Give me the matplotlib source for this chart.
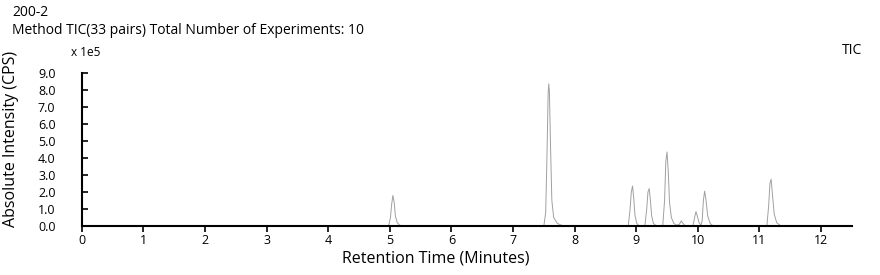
import matplotlib.pyplot as plt

plt.rcParams['font.family'] = ['Open Sans', 'DejaVu Sans']

# TIC trace (time in minutes, intensity in 1e5 CPS)
time = [0.0, 4.98, 5.01, 5.03, 5.05, 5.07, 5.09, 5.12, 5.16, 5.22,
        7.50, 7.53, 7.55, 7.57, 7.58, 7.59, 7.61, 7.63, 7.66, 7.72, 7.82,
        8.87, 8.90, 8.92, 8.94, 8.96, 8.98, 9.01, 9.05,
        9.14, 9.17, 9.19, 9.21, 9.23, 9.25, 9.28, 9.33,
        9.43, 9.46, 9.48, 9.50, 9.52, 9.54, 9.57, 9.61, 9.66,
        9.70, 9.73, 9.76, 9.80,
        9.92, 9.95, 9.97, 9.99, 10.02, 10.05,
        10.07, 10.09, 10.11, 10.13, 10.16, 10.20, 10.25,
        11.12, 11.15, 11.17, 11.19, 11.21, 11.24, 11.28, 11.35, 12.5]
inten = [0.0, 0.0, 0.5, 1.3, 1.8, 1.4, 0.6, 0.2, 0.05, 0.0,
         0.0, 0.8, 4.0, 7.8, 8.35, 7.9, 4.5, 1.5, 0.5, 0.15, 0.0,
         0.0, 1.0, 2.0, 2.35, 1.6, 0.6, 0.15, 0.0,
         0.0, 1.0, 2.0, 2.2, 1.5, 0.6, 0.15, 0.0,
         0.0, 1.5, 3.8, 4.35, 3.2, 1.4, 0.5, 0.15, 0.05,
         0.1, 0.3, 0.15, 0.0,
         0.0, 0.55, 0.85, 0.6, 0.2, 0.05,
         0.3, 1.5, 2.05, 1.6, 0.6, 0.15, 0.0,
         0.0, 1.2, 2.5, 2.75, 1.9, 0.7, 0.2, 0.0, 0.0]

x_ticks = list(range(0, 13))
y_ticks = [0, 1, 2, 3, 4, 5, 6, 7, 8, 9]

fig = plt.figure(figsize=(8.8, 2.75), dpi=100)
ax = fig.add_axes([0.093, 0.178, 0.875, 0.557])

ax.plot(time, inten, color='#a0a0a0', lw=0.7)

ax.set_xlim(0, 12.5)
ax.set_ylim(0, 9)
ax.set_xticks(x_ticks)
ax.set_yticks(y_ticks)
ax.set_yticklabels([f'{v:.1f}' for v in y_ticks])
ax.tick_params(labelsize=9, width=1.2, color='black')
ax.tick_params(axis='x', direction='out', length=4, pad=2)
ax.tick_params(axis='y', direction='in', length=4, pad=19)

for s in ['top', 'right']:
    ax.spines[s].set_visible(False)
for s in ['left', 'bottom']:
    ax.spines[s].set_linewidth(1.5)

ax.set_xlabel('Retention Time (Minutes)', fontsize=11.5)
ax.xaxis.set_label_coords(0.46, -0.16)
ax.set_ylabel('Absolute Intensity (CPS)', fontsize=11.5)
ax.yaxis.set_label_coords(-0.082, 0.57)

fig.text(12 / 880, 1 - 13 / 275, '200-2', fontsize=10, va='center')
fig.text(12 / 880, 1 - 30 / 275, 'Method TIC(33 pairs) Total Number of Experiments: 10',
         fontsize=10, va='center')
fig.text(71 / 880, 1 - 52 / 275, 'x 1e5', fontsize=8.5, va='center')
fig.text(862 / 880, 1 - 51 / 275, 'TIC', fontsize=10, va='center', ha='right')

fig.savefig('out.png', dpi=100)
